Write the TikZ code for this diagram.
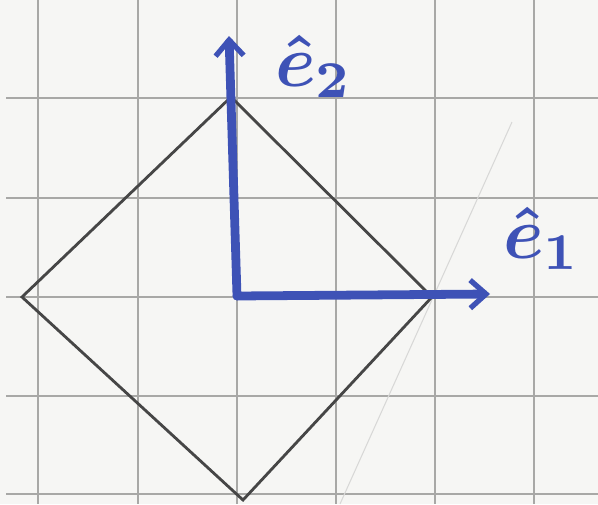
\documentclass[tikz,border=0pt]{standalone}
\usepackage{tikz}
\usetikzlibrary{arrows.meta}
\definecolor{paper}{RGB}{246, 246, 244}
\definecolor{gridgray}{RGB}{168, 168, 166}
\definecolor{pencil}{RGB}{70, 70, 70}
\definecolor{penblue}{RGB}{62, 82, 182}

\begin{document}
\begin{tikzpicture}[
  x=0.02cm, y=-0.02cm,
  gridline/.style={gridgray, line width=1.6pt},
  edge/.style={pencil, line width=1.6pt, line join=miter},
  axis/.style={penblue, line width=5pt, line cap=round, -{Straight Barb[length=9pt, width=16pt, line width=3pt]}},
  lbl/.style={text=penblue, scale=4.2, inner sep=0pt, font=\boldmath}
]
% paper and grid
\fill[paper] (0,0) rectangle (598,504);
\useasboundingbox (0,0) rectangle (598,504);
\foreach \gx in {38,138,237,336,435,534} {\draw[gridline] (\gx,0) -- (\gx,504);}
\foreach \gy in {98,198,297,396,494} {\draw[gridline] (6,\gy) -- (598,\gy);}
% faint pencil stroke
\coordinate (p1) at (512,122);
\coordinate (p2) at (340,504);
\draw[gridgray!45, line width=0.6pt] (p1) -- (p2);
% square
\coordinate (left) at (22,297);
\coordinate (top) at (231,97);
\coordinate (right) at (432,297);
\coordinate (bottom) at (243,500);
\draw[edge] (left) -- (top) -- (right) -- (bottom) -- cycle;
% basis vectors
\coordinate (o) at (237,296);
\coordinate (e2tip) at (229,36);
\coordinate (e1tip) at (490,294);
\draw[axis] (o) -- (e2tip);
\draw[axis] (o) -- (e1tip);
\node[lbl] (e2) at (314,66) {$\hat{e}_2$};
\node[lbl] (e1) at (542,238) {$\hat{e}_1$};
\end{tikzpicture}
\end{document}
